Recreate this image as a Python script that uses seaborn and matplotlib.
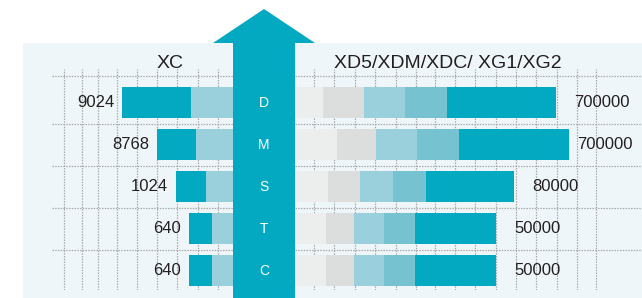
import matplotlib
matplotlib.use("Agg")
import matplotlib.pyplot as plt
from matplotlib.patches import Polygon, Rectangle
from matplotlib.transforms import blended_transform_factory
import numpy as np
import seaborn as sns

sns.set_theme(style="white")
plt.rcParams["font.family"] = ["Liberation Sans", "DejaVu Sans"]

# data (bar lengths in drawing units)
rows = ["D", "M", "S", "T", "C"]
xc_labels = ["9024", "8768", "1024", "640", "640"]
xd_labels = ["700000", "700000", "80000", "50000", "50000"]
xc_dark = [69, 39, 30, 23, 23]
xc_light = [42, 37, 27, 21, 21]
xd_seg1 = [28, 42, 33, 31, 31]
xd_seg2 = [41, 39, 32, 28, 28]
xd_seg3 = [41, 41, 33, 30, 30]
xd_seg4 = [42, 42, 33, 31, 31]
xd_seg5 = [109, 110, 88, 81, 81]

TEAL = "#02a9c1"
MID = "#76c2d1"
LIGHT = "#9ad0db"
GREY = "#dcdddd"
PALE = "#eceeee"
BG = "#eff6fa"
INK = "#231f20"
GRID = "#a9a9a9"

W, H = 642, 298


def fx(px):
    return px / W


def fy(py):
    return 1 - py / H


fig = plt.figure(figsize=(W / 100, H / 100), dpi=100)
fig.patches.append(Rectangle((fx(23), 0), 1 - fx(23), fy(43), transform=fig.transFigure,
                             facecolor=BG, edgecolor="none", zorder=-1))

top, bottom = 69, 290
ax_l = fig.add_axes([fx(52), fy(bottom), fx(233) - fx(52), fy(top) - fy(bottom)])
ax_r = fig.add_axes([fx(295), fy(bottom), 1 - fx(295), fy(top) - fy(bottom)])

bar_kw = dict(orient="h", width=0.74, saturation=1, linewidth=0, order=rows)

# left side: stacked from the arrow outwards
xc_total = np.add(xc_dark, xc_light)
sns.barplot(x=xc_total, y=rows, color=TEAL, ax=ax_l, **bar_kw)
sns.barplot(x=xc_light, y=rows, color=LIGHT, ax=ax_l, **bar_kw)

# right side: cumulative, widest first
segs = [xd_seg1, xd_seg2, xd_seg3, xd_seg4, xd_seg5]
seg_colors = [PALE, GREY, LIGHT, MID, TEAL]
cum = np.cumsum(segs, axis=0)
for k in range(len(segs) - 1, -1, -1):
    sns.barplot(x=cum[k], y=rows, color=seg_colors[k], ax=ax_r, **bar_kw)

ylim = (4.46, -0.80)
seps = [-0.63, 0.5, 1.5, 2.5, 3.5]
grid_kw = dict(color=GRID, lw=0.9, ls=(0, (1.2, 1.0)), zorder=0)
for ax, xlim, vlines in [
    (ax_l, (181, 0), [169, 151, 135, 116, 96, 76, 56, 35, 15]),
    (ax_r, (0, 347), [19, 39, 60, 80, 101, 121, 140, 160, 180, 201, 221, 241, 262, 282, 301]),
]:
    ax.set_xlim(*xlim)
    ax.set_ylim(*ylim)
    ax.set_facecolor("none")
    for v in vlines:
        ax.axvline(v, **grid_kw)
    for s in seps:
        ax.axhline(s, **grid_kw)
    ax.set_axisbelow(True)
    ax.set_xticks([])
    ax.set_yticks([])
    ax.set_xlabel("")
    ax.set_ylabel("")
    sns.despine(ax=ax, left=True, bottom=True)

# value labels
for i, (tot, lab) in enumerate(zip(xc_total, xc_labels)):
    ax_l.text(tot + 8, i, lab, ha="right", va="center", fontsize=12, color=INK)
for i, (end, lab) in enumerate(zip(cum[-1], xd_labels)):
    ax_r.text(min(end + 18, 282), i, lab, ha="left", va="center", fontsize=12, color=INK)

# the arrow in the middle
arrow = Polygon([(fx(233), 0), (fx(233), fy(43)), (fx(213), fy(43)), (fx(264), fy(9)),
                 (fx(315), fy(43)), (fx(295), fy(43)), (fx(295), 0)],
                closed=True, transform=fig.transFigure, facecolor=TEAL, edgecolor="none", zorder=2)
fig.patches.append(arrow)

row_tf = blended_transform_factory(fig.transFigure, ax_l.transData)
for i, r in enumerate(rows):
    fig.text(fx(264), i, r, transform=row_tf, ha="center", va="center",
             color="white", fontsize=10, zorder=4)

fig.text(fx(170.5), fy(68), "XC", ha="center", va="baseline", fontsize=14, color=INK)
fig.text(fx(447.5), fy(68), "XD5/XDM/XDC/ XG1/XG2", ha="center", va="baseline",
         fontsize=14, color=INK)

fig.savefig("out.png", dpi=100, facecolor="white")
